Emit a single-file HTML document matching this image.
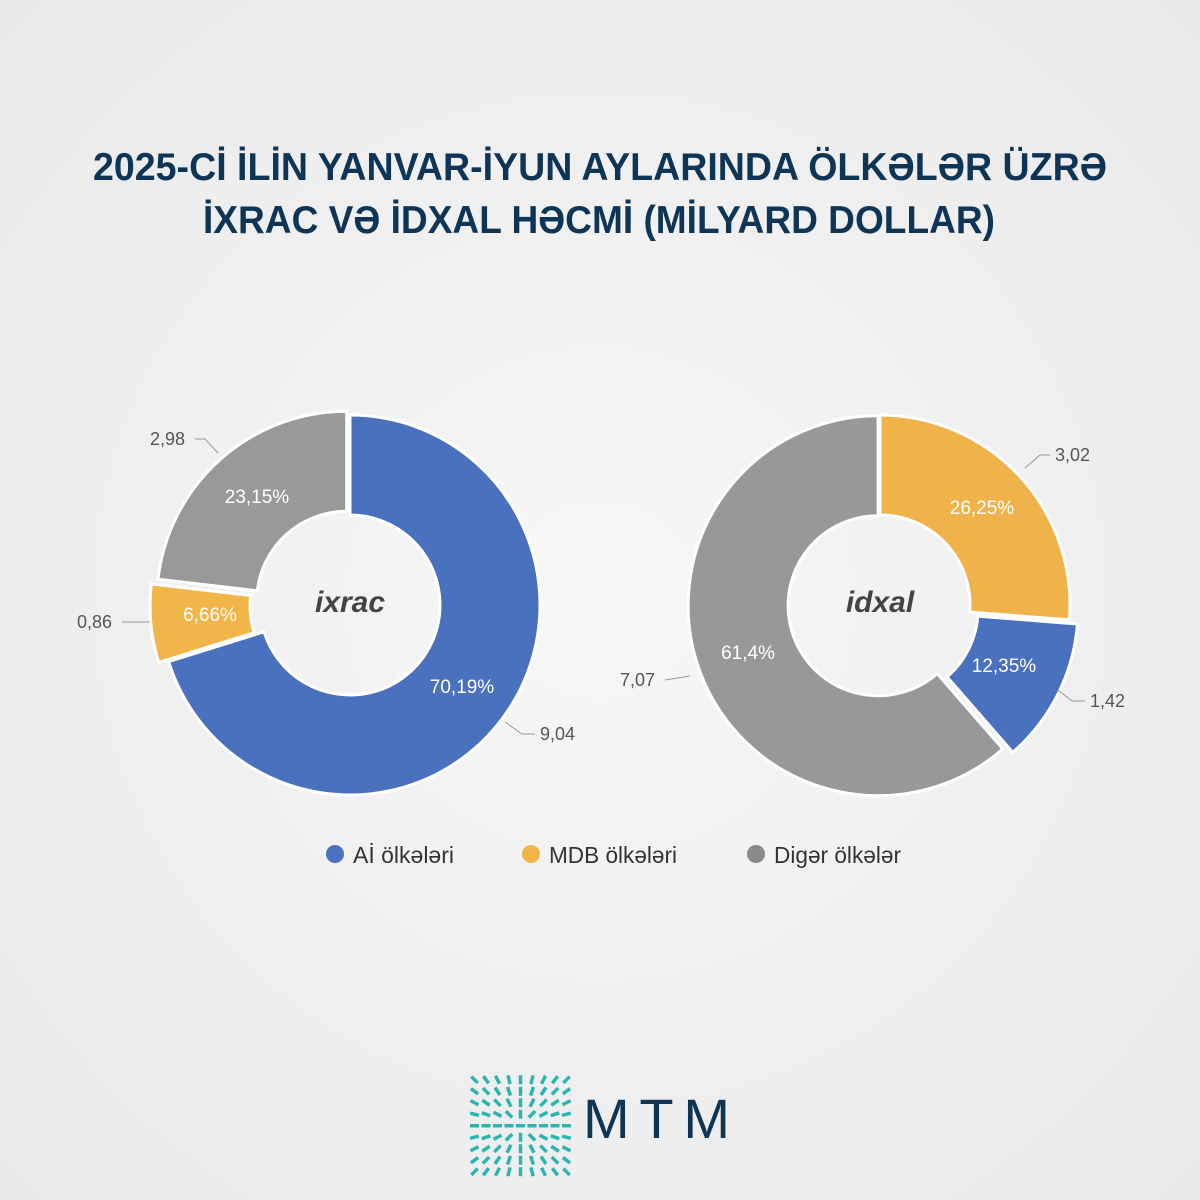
<!DOCTYPE html>
<html><head><meta charset="utf-8"><style>
html,body{margin:0;padding:0;}
body{width:1200px;height:1200px;background:#f2f2f2;font-family:"Liberation Sans",sans-serif;overflow:hidden;}
svg{display:block;}
</style></head><body>
<svg id="s" width="1200" height="1200" viewBox="0 0 1200 1200" xmlns="http://www.w3.org/2000/svg">
<defs>
<radialGradient id="bg" cx="50%" cy="50%" r="70%"><stop offset="0" stop-color="#f7f7f7"/><stop offset="1" stop-color="#e9e9e9"/></radialGradient>
</defs>
<rect width="1200" height="1200" fill="url(#bg)"/>
<g font-family="Liberation Sans, sans-serif" font-weight="bold" fill="#0e3555" font-size="39">
<text x="93" y="180" textLength="1014" lengthAdjust="spacingAndGlyphs">2025-Cİ İLİN YANVAR-İYUN AYLARINDA ÖLKƏLƏR ÜZRƏ</text>
<text x="203" y="233" textLength="792" lengthAdjust="spacingAndGlyphs">İXRAC VƏ İDXAL HƏCMİ (MİLYARD DOLLAR)</text>
</g>
<g id="charts"></g>
<g font-size="18" fill="#555" font-family="Liberation Sans, sans-serif">
<text x="150" y="445">2,98</text>
<text x="77" y="628">0,86</text>
<text x="540" y="740">9,04</text>
<text x="1055" y="461">3,02</text>
<text x="620" y="686">7,07</text>
<text x="1090" y="707">1,42</text>
</g>
<g stroke="#999" stroke-width="1" fill="none">
<polyline points="195,439 205,439 218,453"/>
<polyline points="122,622 150,622"/>
<polyline points="535,734 522,734 505,722"/>
<polyline points="1050,455 1040,455 1025,468"/>
<polyline points="665,680 690,676"/>
<polyline points="1085,701 1072,701 1058,690"/>
</g>
<g font-size="19" fill="#fff" font-family="Liberation Sans, sans-serif" text-anchor="middle">
<text x="257" y="503">23,15%</text>
<text x="210" y="621">6,66%</text>
<text x="462" y="693">70,19%</text>
<text x="982" y="514">26,25%</text>
<text x="1004" y="672">12,35%</text>
<text x="748" y="659">61,4%</text>
</g>
<g font-size="30" fill="#444" font-style="italic" font-weight="bold" text-anchor="middle">
<text x="350" y="612">ixrac</text>
<text x="880" y="612">idxal</text>
</g>
<g font-size="23" fill="#333">
<circle cx="335" cy="854" r="9" fill="#4a72c0"/><text x="353" y="863" textLength="101" lengthAdjust="spacingAndGlyphs">Aİ ölkələri</text>
<circle cx="531" cy="854" r="9" fill="#f2b54a"/><text x="549" y="863" textLength="128" lengthAdjust="spacingAndGlyphs">MDB ölkələri</text>
<circle cx="756" cy="854" r="9" fill="#8a8a8a"/><text x="774" y="863" textLength="127" lengthAdjust="spacingAndGlyphs">Digər ölkələr</text>
</g>
<g id="logo"></g>
<text x="583" y="1138" font-size="56" fill="#0e3555" font-family="Liberation Sans, sans-serif" textLength="147" lengthAdjust="spacing">MTM</text>
</svg>
<script>
var ns="http://www.w3.org/2000/svg";
function arc(cx,cy,R,r,a0,a1,off){
 var m=(a0+a1)/2*Math.PI/180;cx+=off*Math.sin(m);cy-=off*Math.cos(m);
 function p(rad,a){a=a*Math.PI/180;return [cx+rad*Math.sin(a),cy-rad*Math.cos(a)];}
 var l=(a1-a0)>180?1:0,A=p(R,a0),B=p(R,a1),C=p(r,a1),D=p(r,a0);
 return "M"+A+" A"+R+","+R+" 0 "+l+" 1 "+B+" L"+C+" A"+r+","+r+" 0 "+l+" 0 "+D+"Z";
}
var g=document.getElementById("charts");
function slice(cx,cy,a0,a1,off,col){
 var e=document.createElementNS(ns,"path");
 e.setAttribute("d",arc(cx,cy,190,90,a0,a1,off));
 e.setAttribute("fill",col);e.setAttribute("stroke","#fff");e.setAttribute("stroke-width","3");
 g.appendChild(e);
}
var b=0.7019*360,o=b+0.0666*360;
slice(350,605,0,b,0,"#4a71bd");
slice(350,605,b,o,10,"#f2b54a");
slice(350,605,o,360,5,"#999999");
var o2=0.2625*360,b2=o2+0.1235*360;
slice(880,605,0,o2,0,"#f0b24a");
slice(880,605,o2,b2,9,"#4a71bd");
slice(880,605,b2,360,2,"#989898");
var lg=document.getElementById("logo");
for(var i=0;i<9;i++)for(var j=0;j<9;j++){
 var x=470+j*11.5,y=1075+i*11.5,dx=j-4,dy=i-4;
 var ang=Math.atan2(dy,dx)*180/Math.PI;
 var r=document.createElementNS(ns,"rect");
 r.setAttribute("x",x);r.setAttribute("y",y+3);r.setAttribute("width",9);r.setAttribute("height",3.5);
 r.setAttribute("fill","#2cb5b0");
 r.setAttribute("transform","rotate("+ang+" "+(x+4.5)+" "+(y+4.75)+")");
 lg.appendChild(r);
}
</script>
</body></html>
